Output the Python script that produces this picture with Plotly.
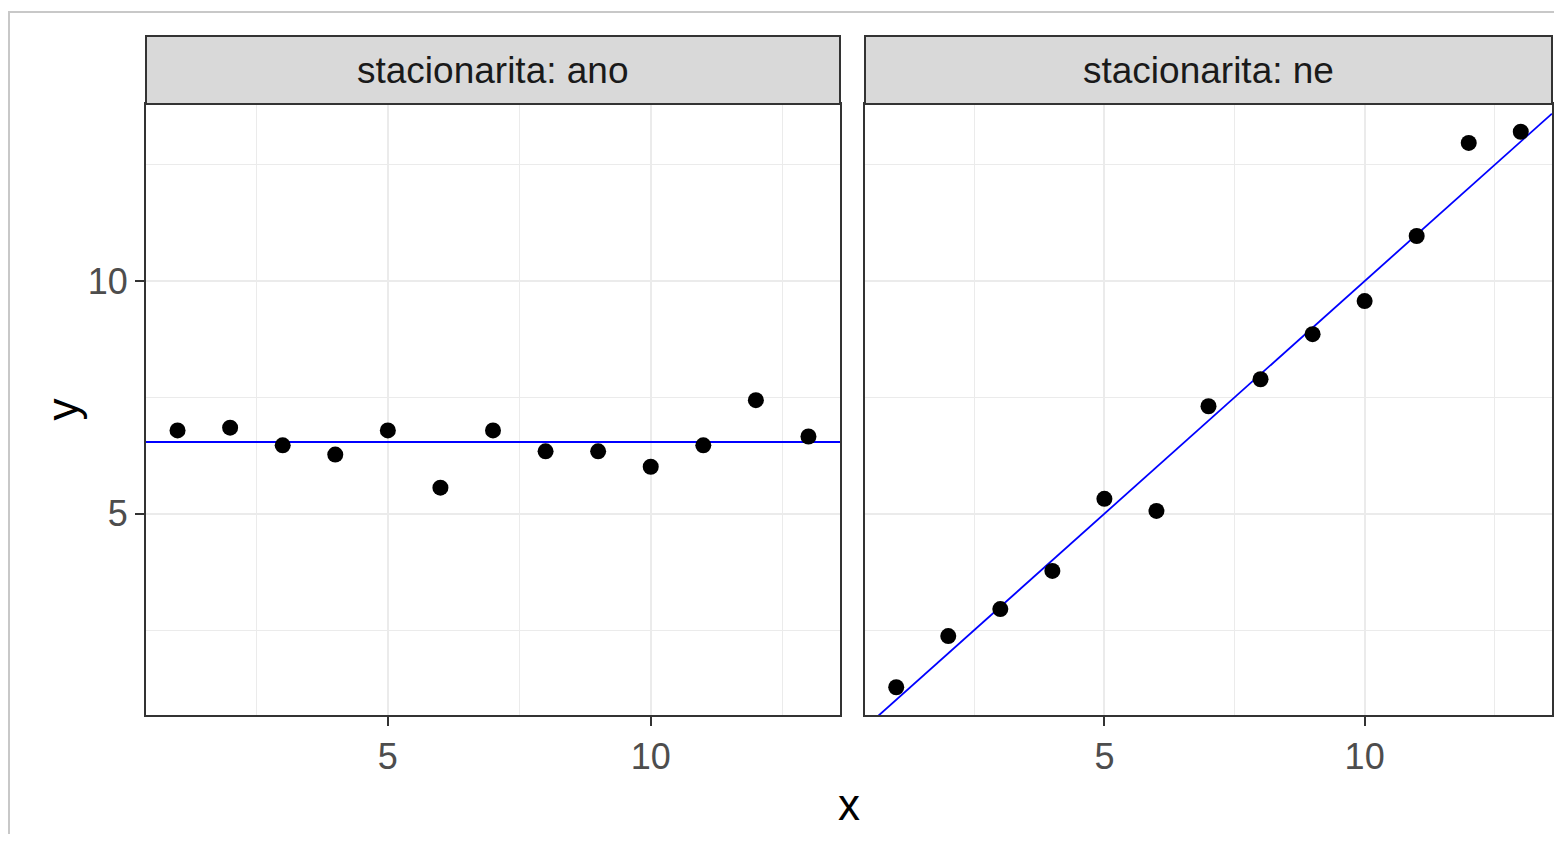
import plotly.graph_objects as go
from plotly.subplots import make_subplots

# ---- data ----
x_vals = [1, 2, 3, 4, 5, 6, 7, 8, 9, 10, 11, 12, 13]
y_ano = [6.79, 6.85, 6.47, 6.27, 6.79, 5.56, 6.79, 6.34, 6.34, 6.01, 6.47, 7.44, 6.66]
y_ne = [1.27, 2.37, 2.95, 3.77, 5.32, 5.06, 7.31, 7.89, 8.86, 9.57, 10.97, 12.97, 13.21]
panel_titles = ["stacionarita: ano", "stacionarita: ne"]
hline_ano = 6.54          # horizontal reference line (left panel)
abline_intercept = 0.0    # reference line y = a + b x (right panel)
abline_slope = 1.0
x_ticks = [5, 10]
y_ticks = [5, 10]

OFF = 8                   # page body margin
W, H = 1562 - 2 * OFF, 842 - 2 * OFF
FONT = "Liberation Sans, Arial, sans-serif"

# x / y ranges as in ggplot (5% expansion)
xmin, xmax = min(x_vals), max(x_vals)
xr = [xmin - 0.05 * (xmax - xmin), xmax + 0.05 * (xmax - xmin)]
all_y = y_ano + y_ne
ymin, ymax = min(all_y), max(all_y)
yr = [ymin - 0.05 * (ymax - ymin), ymax + 0.05 * (ymax - ymin)]

fig = make_subplots(rows=1, cols=2, shared_yaxes=True)

# left panel
fig.add_trace(go.Scatter(x=xr, y=[hline_ano, hline_ano], mode="lines",
                         line=dict(color="#0000FF", width=2), hoverinfo="skip"), 1, 1)
fig.add_trace(go.Scatter(x=x_vals, y=y_ano, mode="markers",
                         marker=dict(color="black", size=16)), 1, 1)
# right panel
fig.add_trace(go.Scatter(x=xr, y=[abline_intercept + abline_slope * v for v in xr],
                         mode="lines", line=dict(color="#0000FF", width=1.8),
                         hoverinfo="skip"), 1, 2)
fig.add_trace(go.Scatter(x=x_vals, y=y_ne, mode="markers",
                         marker=dict(color="black", size=16)), 1, 2)

# geometry (page pixels -> paper)
def px(v):
    return (v - OFF) / W

def py(v):
    return 1 - (v - OFF) / H

dom1 = [px(146), px(840)]
dom2 = [px(865), px(1552)]
ydom = [py(715), py(104)]
strip_top = py(36)

grid_minor = dict(dtick=2.5, tick0=0, showgrid=True, gridcolor="#EBEBEB", gridwidth=1)
axis_common = dict(
    range=xr, tickvals=x_ticks, ticks="outside", ticklen=9, tickwidth=2,
    tickcolor="#333333", showline=True, mirror=True, linecolor="#333333",
    linewidth=2, showgrid=True, gridcolor="#EBEBEB", gridwidth=2, zeroline=False,
    tickfont=dict(family=FONT, size=36, color="#4D4D4D"), minor=grid_minor,
)
fig.update_layout(
    xaxis=dict(domain=dom1, **axis_common),
    xaxis2=dict(domain=dom2, **axis_common),
    yaxis=dict(domain=ydom, range=yr, tickvals=y_ticks, ticks="outside", ticklen=9,
               tickwidth=2, tickcolor="#333333", showline=True, mirror=True,
               linecolor="#333333", linewidth=2, showgrid=True, gridcolor="#EBEBEB",
               gridwidth=2, zeroline=False,
               tickfont=dict(family=FONT, size=36, color="#4D4D4D"), minor=grid_minor),
    yaxis2=dict(domain=ydom, range=yr, tickvals=y_ticks, showticklabels=False,
                ticks="", showline=True, mirror=True, linecolor="#333333", linewidth=2,
                showgrid=True, gridcolor="#EBEBEB", gridwidth=2, zeroline=False,
                minor=grid_minor),
)

shapes = []
annotations = []
for dom, title in zip([dom1, dom2], panel_titles):
    shapes.append(dict(type="rect", xref="paper", yref="paper", x0=dom[0], x1=dom[1],
                       y0=ydom[1], y1=strip_top, fillcolor="#D9D9D9",
                       line=dict(color="#333333", width=2), layer="above"))
    annotations.append(dict(xref="paper", yref="paper", x=(dom[0] + dom[1]) / 2,
                            y=(ydom[1] + strip_top) / 2, text=title, showarrow=False,
                            xanchor="center", yanchor="middle",
                            font=dict(family=FONT, size=37, color="#1A1A1A")))

# outer screenshot frame
shapes.append(dict(type="rect", xref="paper", yref="paper", x0=px(9), x1=1.05,
                   y0=-0.05, y1=py(12), line=dict(color="#C8C8C8", width=2),
                   fillcolor="rgba(0,0,0,0)", layer="below"))

# axis titles
annotations.append(dict(xref="paper", yref="paper", x=(dom1[0] + dom2[1]) / 2,
                        y=py(804), text="x", showarrow=False, xanchor="center",
                        yanchor="middle", font=dict(family=FONT, size=44, color="black")))
annotations.append(dict(xref="paper", yref="paper", x=px(62), y=(ydom[0] + ydom[1]) / 2,
                        text="y", showarrow=False, textangle=-90, xanchor="center",
                        yanchor="middle", font=dict(family=FONT, size=44, color="black")))

fig.update_layout(
    width=W, height=H, margin=dict(l=0, r=0, t=0, b=0),
    paper_bgcolor="white", plot_bgcolor="white", showlegend=False,
    shapes=shapes, annotations=annotations,
)

fig.write_html("out.html")
